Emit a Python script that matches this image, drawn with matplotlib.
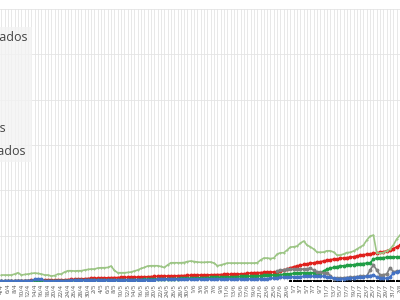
import matplotlib
matplotlib.use("Agg")
import matplotlib.pyplot as plt
import numpy as np
import datetime as dt

# daily dates, one category per day
start = dt.date(2020, 4, 4)
n_days = 121
dates = [start + dt.timedelta(days=k) for k in range(n_days)]
date_labels = ["%d/%d" % (d.day, d.month) for d in dates]

# series values
activos = [66, 66, 66, 66, 77, 91, 66, 72, 77, 83,
           88, 83, 77, 66, 66, 55, 60, 77, 77, 99,
           113, 113, 110, 113, 113, 121, 127, 132, 132, 143,
           146, 146, 149, 165, 116, 91, 91, 91, 94, 99,
           110, 121, 138, 149, 165, 168, 168, 168, 160, 149,
           176, 201, 201, 201, 201, 204, 215, 220, 215, 209,
           206, 206, 209, 209, 198, 168, 176, 187, 198, 198,
           198, 198, 198, 198, 198, 198, 198, 201, 231, 253,
           253, 248, 253, 297, 311, 311, 341, 374, 377, 385,
           418, 440, 396, 377, 352, 319, 316, 319, 333, 333,
           319, 286, 286, 297, 314, 316, 330, 352, 374, 396,
           451, 495, 506, 308, 308, 314, 330, 352, 396, 462,
           506]
confirmados = [2, 2, 3, 3, 3, 4, 4, 5, 5, 6,
               6, 7, 7, 8, 8, 9, 10, 11, 12, 13,
               15, 17, 19, 21, 23, 25, 27, 29, 31, 32,
               33, 34, 35, 36, 37, 38, 39, 40, 40, 41,
               42, 43, 45, 46, 47, 48, 50, 51, 53, 54,
               55, 56, 57, 58, 59, 60, 61, 62, 64, 65,
               66, 67, 68, 68, 69, 70, 71, 72, 73, 73,
               74, 76, 78, 80, 83, 88, 91, 92, 93, 94,
               96, 98, 100, 102, 108, 118, 130, 145, 157, 165,
               174, 182, 190, 195, 200, 207, 213, 220, 228, 235,
               240, 244, 249, 253, 258, 262, 268, 276, 284, 290,
               294, 299, 305, 310, 316, 322, 333, 345, 358, 375,
               395]
recuperados = [1, 1, 1, 1, 1, 1, 1, 2, 2, 2,
               2, 2, 3, 3, 3, 3, 4, 4, 4, 5,
               5, 5, 6, 6, 6, 7, 7, 8, 8, 9,
               9, 10, 10, 11, 11, 12, 12, 13, 13, 14,
               15, 15, 16, 17, 18, 19, 20, 21, 22, 23,
               24, 25, 26, 27, 28, 29, 30, 32, 33, 35,
               36, 37, 38, 39, 40, 41, 42, 43, 45, 46,
               47, 48, 50, 51, 52, 54, 55, 57, 59, 61,
               63, 65, 67, 69, 71, 73, 77, 80, 84, 88,
               91, 91, 91, 91, 91, 91, 91, 110, 129, 140,
               150, 158, 165, 168, 171, 175, 180, 185, 190, 193,
               196, 200, 240, 252, 255, 258, 261, 263, 265, 266,
               268]
hospitalizados = [3, 3, 3, 3, 3, 4, 4, 4, 5, 5,
                  18, 25, 22, 0, 2, 3, 3, 4, 4, 5,
                  5, 6, 6, 7, 7, 8, 8, 9, 9, 10,
                  10, 11, 11, 12, 12, 12, 13, 13, 14, 14,
                  14, 15, 15, 15, 16, 16, 16, 17, 17, 17,
                  18, 18, 18, 19, 19, 19, 20, 20, 20, 21,
                  21, 21, 21, 22, 22, 22, 22, 22, 22, 22,
                  22, 23, 23, 23, 23, 24, 24, 25, 25, 26,
                  27, 30, 33, 36, 39, 41, 43, 45, 47, 48,
                  49, 50, 51, 52, 53, 54, 55, 52, 47, 40,
                  30, 25, 25, 27, 30, 33, 36, 39, 41, 45,
                  52, 60, 66, 45, 30, 30, 30, 45, 85, 100,
                  113]
sospechosos = [None] * 83 + [110, 121, 125, 127, 128, 128, 129, 129, 132, 136,
                             140, 120, 102, 96, 91, 91, 60, 25, 30, 33,
                             36, 38, 41, 44, 47, 50, 52, 55, 121, 176,
                             120, 66, 70, 77, 146, 102, 108, 113]
fallecidos = [None] * 87 + [0] * 34

series = [
    ("Casos confirmados", confirmados, "#e0201c", "o"),
    ("Activos", activos, "#9cc585", "+"),
    ("Recuperados", recuperados, "#1f9e45", "o"),
    ("Fallecidos", fallecidos, "#000000", "s"),
    ("Casos positivos", sospechosos, "#808080", "o"),
    ("Casos descartados", hospitalizados, "#4472c4", "o"),
]

plt.rcParams['font.family'] = ['Open Sans', 'DejaVu Sans']

fig = plt.figure(figsize=(4, 3), dpi=100)
ax = fig.add_axes([0, 19 / 300, 1, 272 / 300])

x = np.arange(n_days)
for label, vals, color, mk in series:
    y = np.array([np.nan if v is None else v for v in vals], dtype=float)
    ls = ":" if color == "#000000" else "-"
    ax.plot(x, y, ls, color=color, lw=1.2, marker=mk, ms=2.0, mew=0.8, label=label)

ax.set_xlim(-0.45, 119.67)
ax.set_ylim(0, 3000)
ax.set_yticks(np.arange(0, 3001, 500))
ax.set_yticklabels([])
ax.set_xticks(x, minor=True)
ax.set_xticks(x[::2])
ax.set_xticklabels(date_labels[::2], rotation=90, fontsize=4.5, color="#555555")
ax.tick_params(length=0, which="both", pad=2)
ax.grid(True, which="both", color="#e4e4e4", lw=0.6)
ax.set_axisbelow(True)
for s in ax.spines.values():
    s.set_visible(False)

leg = ax.legend(loc="upper right", bbox_to_anchor=(38 / 400, 279 / 300),
                bbox_transform=fig.transFigure, fontsize=9, frameon=True,
                labelspacing=0.78, borderpad=0.3, handlelength=1.5)
leg.get_frame().set_facecolor("#f3f3f3")
leg.get_frame().set_edgecolor("none")
leg.get_frame().set_boxstyle("square", pad=0)
for t in leg.get_texts():
    t.set_color("#444444")

fig.savefig("out.png", dpi=100)
